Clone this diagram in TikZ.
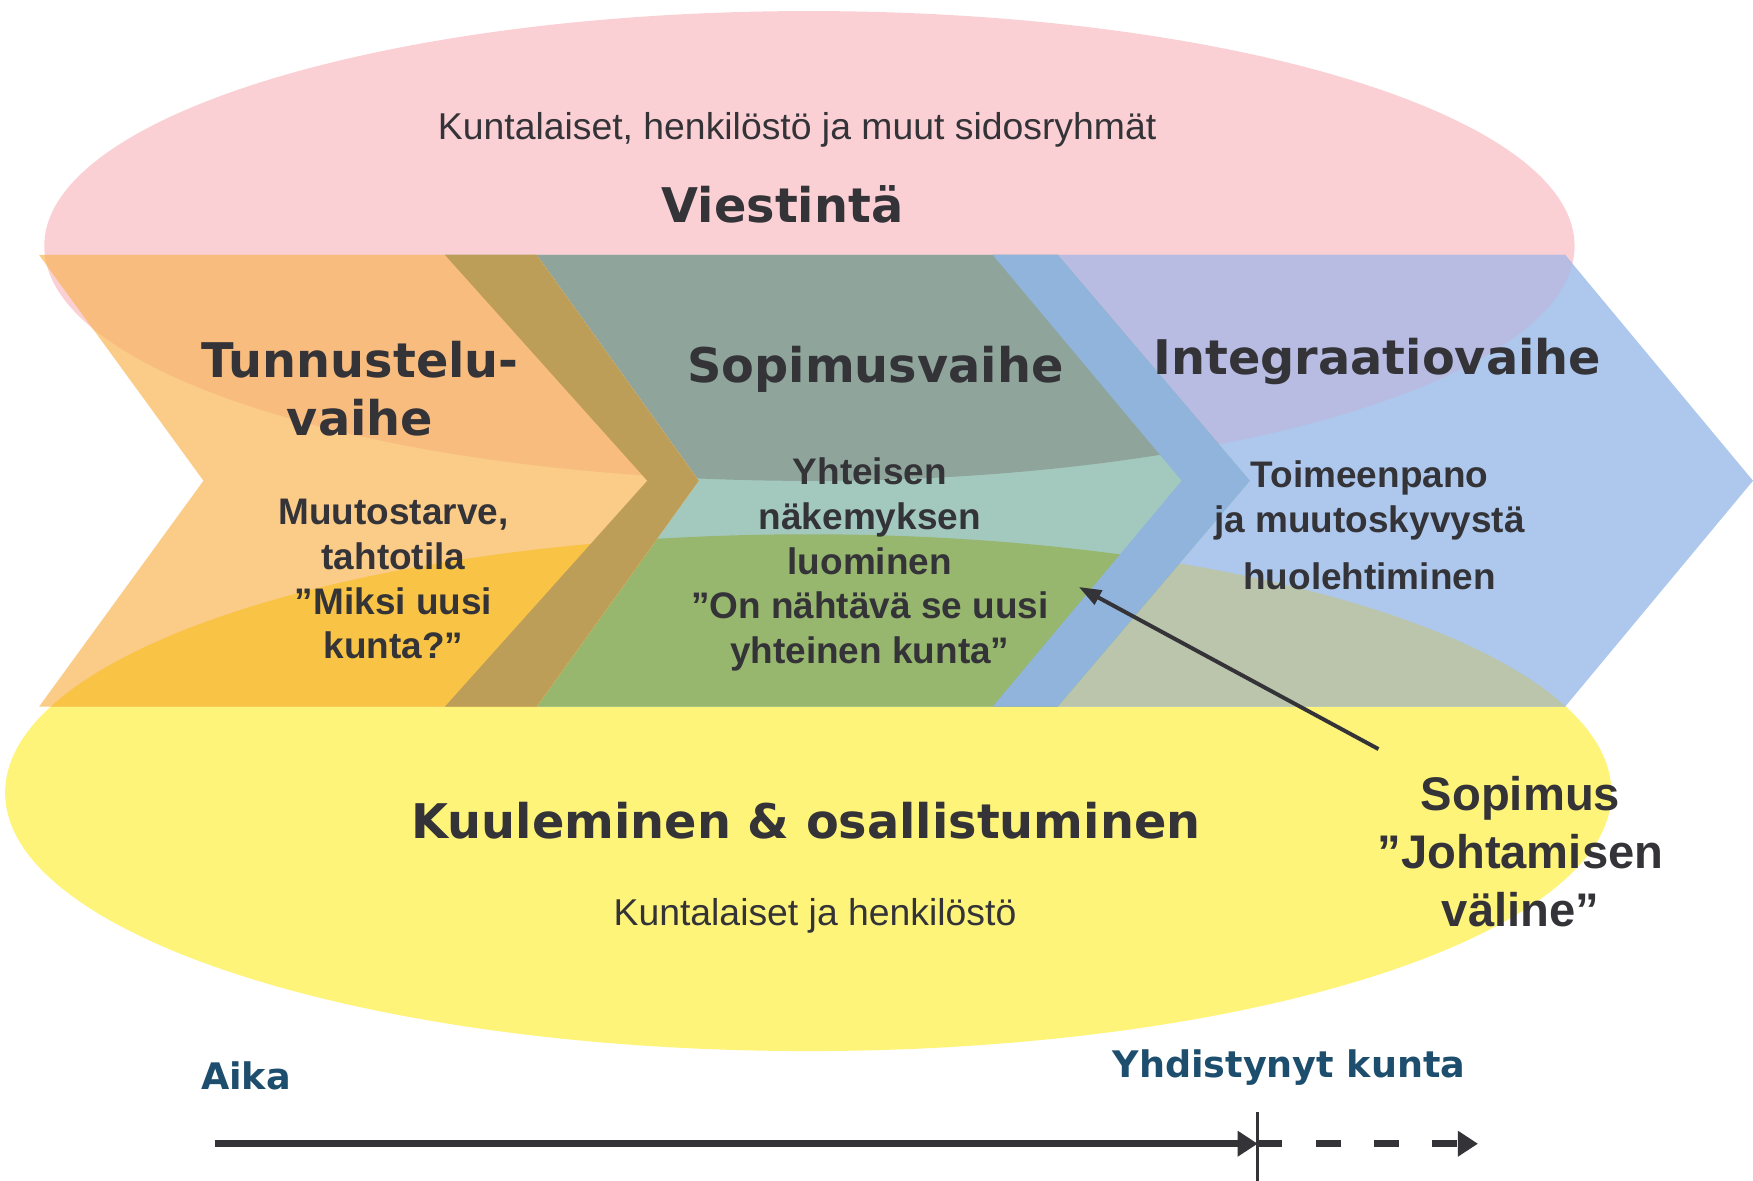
\documentclass[tikz,border=0pt]{standalone}
\usepackage{fontspec}
\setmainfont{Liberation Sans}
\newfontfamily\headfont{DejaVu Sans}
\usetikzlibrary{arrows.meta}

\definecolor{viestpink}{HTML}{FAD0D5}
\definecolor{kuulyellow}{HTML}{FFF47A}
\definecolor{tunnorange}{HTML}{FBCB88}
\definecolor{tunnpink}{HTML}{F8BC7E}
\definecolor{tunnyellow}{HTML}{F9C445}
\definecolor{sopgreen}{HTML}{A3C9BF}
\definecolor{soppink}{HTML}{8FA59B}
\definecolor{sopyellow}{HTML}{97B66E}
\definecolor{intblue}{HTML}{ADC8EC}
\definecolor{intpink}{HTML}{B8BCE2}
\definecolor{intyellow}{HTML}{BBC5AC}
\definecolor{oliveband}{HTML}{BD9E58}
\definecolor{blueband}{HTML}{90B4DC}
\definecolor{textgrey}{HTML}{333338}
\definecolor{aikablue}{HTML}{1D4E6E}

% shapes (x right, y down, one unit = one pixel of the layout)
\newcommand{\viestoval}{(724,220) ellipse [x radius=6.84cm, y radius=2.1cm]}
\newcommand{\kuuloval}{(723,709) ellipse [x radius=7.18cm, y radius=2.31cm]}
\newcommand{\tunnchev}{(35,228) -- (480,228) -- (625,430) -- (480,632) -- (35,632) -- (182,430) -- cycle}
\newcommand{\sopchev}{(398,228) -- (946,228) -- (1118,430) -- (946,632) -- (398,632) -- (579,430) -- cycle}
\newcommand{\intchev}{(888,228) -- (1400,228) -- (1568,430) -- (1400,632) -- (888,632) -- (1057,430) -- cycle}

\tikzset{
  phase/.style={font=\headfont\bfseries\fontsize{12.15}{14.8}\selectfont, text=textgrey, align=center, inner sep=0pt},
  body/.style={font=\bfseries\fontsize{9.4}{11.4}\selectfont, text=textgrey, align=center, inner sep=0pt},
  plain/.style={font=\fontsize{9.5}{11.4}\selectfont, text=textgrey, inner sep=0pt},
  timelabel/.style={font=\headfont\bfseries\fontsize{9.3}{11}\selectfont, text=aikablue, inner sep=0pt}
}

\begin{document}
\begin{tikzpicture}[x=0.01cm, y=-0.01cm]
  \useasboundingbox (0,0) rectangle (1568,1056);

  % Ellipses
  \fill[viestpink] \viestoval;
  \fill[kuulyellow] \kuuloval;

  % Integraatiovaihe
  \fill[intblue] \intchev;
  \begin{scope}
    \clip \intchev;
    \fill[intpink] \viestoval;
    \fill[intyellow] \kuuloval;
  \end{scope}

  % Sopimusvaihe
  \fill[sopgreen] \sopchev;
  \begin{scope}
    \clip \sopchev;
    \fill[soppink] \viestoval;
    \fill[sopyellow] \kuuloval;
  \end{scope}

  % Tunnusteluvaihe
  \fill[tunnorange] \tunnchev;
  \begin{scope}
    \clip \tunnchev;
    \fill[tunnpink] \viestoval;
    \fill[tunnyellow] \kuuloval;
  \end{scope}

  % Overlap bands
  \fill[oliveband] (398,228) -- (480,228) -- (625,430) -- (480,632) -- (398,632) -- (579,430) -- cycle;
  \fill[blueband] (888,228) -- (946,228) -- (1118,430) -- (946,632) -- (888,632) -- (1057,430) -- cycle;

  % Texts
  \node[plain] (sidos) at (713,116) {Kuntalaiset, henkilöstö ja muut sidosryhmät};
  \node[phase] (viestinta) at (700,183) {Viestintä};

  \node[phase] (tunnustelu) at (322,348) {Tunnustelu-\\vaihe};
  \node[body] (muutos) at (352,518) {Muutostarve,\\tahtotila\\”Miksi uusi\\kunta?”};

  \node[phase] (sopimusvaihe) at (783,330) {Sopimusvaihe};
  \node[body] (yhteisen) at (778,505) {Yhteisen\\näkemyksen\\luominen\\”On nähtävä se uusi\\yhteinen kunta”};

  \node[phase] (integraatio) at (1232,323) {Integraatiovaihe};
  \node[body] (toimeenpano) at (1225,470) {Toimeenpano\\ja muutoskyvystä\\[3pt]huolehtiminen};

  \node[phase] (kuuleminen) at (721,734) {Kuuleminen \& osallistuminen};
  \node[plain] (kuntalaiset) at (729,819) {Kuntalaiset ja henkilöstö};

  \node[body, font=\bfseries\fontsize{12}{14.8}\selectfont] (sopimus) at (1360,762) {Sopimus\\”Johtamisen\\väline”};

  % Arrow from Sopimus
  \coordinate (sopstart) at (1233,670);
  \coordinate (sopend) at (965,525);
  \draw[textgrey, line width=1pt, -{Triangle[length=0.2cm, width=0.14cm]}] (sopstart) -- (sopend);

  % Time axis
  \node[timelabel] (aika) at (220,962) {Aika};
  \node[timelabel] (yhdistynyt) at (1153,955) {Yhdistynyt kunta};
  \coordinate (aikastart) at (192,1023);
  \coordinate (merge) at (1125,1023);
  \coordinate (future) at (1322,1023);
  \draw[textgrey, line width=1.7pt, -{Triangle[length=0.18cm, width=0.22cm]}] (aikastart) -- (merge);
  \draw[textgrey, line width=1.7pt, dash pattern=on 0.22cm off 0.3cm, -{Triangle[length=0.18cm, width=0.22cm]}] (merge) -- (future);
  \draw[textgrey, line width=0.8pt] (1125,995) -- (1125,1056);
\end{tikzpicture}
\end{document}
